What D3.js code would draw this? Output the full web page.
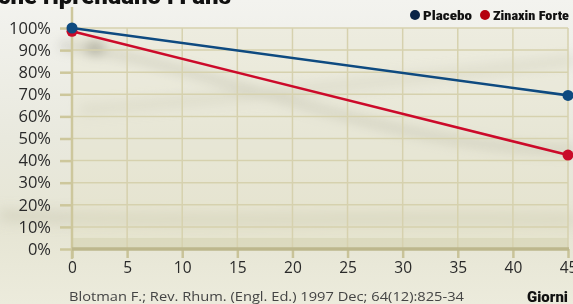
<!DOCTYPE html>
<html><head><meta charset="utf-8">
<script src="https://cdn.jsdelivr.net/npm/d3@7"></script>
<style>
html,body{margin:0;padding:0;background:#ecebe1;}
svg{display:block;}
</style></head>
<body>
<svg id="c" width="573" height="304"></svg>
<script>
const days = [0, 45];
const placebo = [100, 69.5];
const zinaxin = [98.5, 42.5];
const xTicks = [0,5,10,15,20,25,30,35,40,45];
const yTicks = [0,10,20,30,40,50,60,70,80,90,100];
const seriesNames = ["Placebo", "Zinaxin Forte"];
const titleText = "che riprendano i Fans";
const sourceText = "Blotman F.; Rev. Rhum. (Engl. Ed.) 1997 Dec; 64(12):825-34";
const xLabel = "Giorni";

const svg = d3.select("#c");
const W = 573, H = 304;
const x = d3.scaleLinear().domain([0,45]).range([72,568]);
const y = d3.scaleLinear().domain([0,100]).range([249,28]);

const defs = svg.append("defs");
const bg = defs.append("linearGradient").attr("id","bg").attr("x1",0).attr("y1",0).attr("x2",0).attr("y2",1);
bg.append("stop").attr("offset","0%").attr("stop-color","#f3f3ef");
bg.append("stop").attr("offset","45%").attr("stop-color","#e9e9de");
bg.append("stop").attr("offset","75%").attr("stop-color","#e6e5d4");
bg.append("stop").attr("offset","100%").attr("stop-color","#ecebdc");
const blur = defs.append("filter").attr("id","bl").attr("x","-20%").attr("y","-50%").attr("width","140%").attr("height","200%");
blur.append("feGaussianBlur").attr("stdDeviation",6);

svg.append("rect").attr("width",W).attr("height",H).attr("fill","url(#bg)");
// soft background streaks
const deco = svg.append("g").attr("filter","url(#bl)").attr("fill","none");
deco.append("path").attr("d","M60,45 C200,60 380,150 573,150").attr("stroke","#a9a99c").attr("stroke-width",7).attr("opacity",0.55);
deco.append("path").attr("d","M80,110 C220,100 400,80 573,60").attr("stroke","#c9c9bc").attr("stroke-width",10).attr("opacity",0.5);
deco.append("path").attr("d","M0,215 C200,225 400,215 573,220").attr("stroke","#cfcdb8").attr("stroke-width",12).attr("opacity",0.6);
deco.append("ellipse").attr("cx",95).attr("cy",48).attr("rx",10).attr("ry",7).attr("fill","#6f6f66").attr("opacity",0.6);

// plot tint
svg.append("rect").attr("x",x(0)).attr("y",y(100)).attr("width",x(45)-x(0)).attr("height",y(0)-y(100))
  .attr("fill","#e4e1c4").attr("opacity",0.3);
svg.append("rect").attr("x",x(0)).attr("y",y(5)).attr("width",x(45)-x(0)).attr("height",y(0)-y(5))
  .attr("fill","#d2cfae").attr("opacity",0.5);

// title (cut at top, as in the reference)
svg.append("text").attr("x",-2).attr("y",4).attr("font-family","Roboto, 'Liberation Sans', sans-serif")
  .attr("font-weight",900).attr("font-size",24).attr("fill","#111").text(titleText);

const grid = svg.append("g").attr("stroke","#d6d1ae").attr("stroke-width",1.5);
grid.selectAll("line.h").data(yTicks.filter(d=>d>0)).join("line")
  .attr("x1",x(0)).attr("x2",x(45)).attr("y1",d=>y(d)).attr("y2",d=>y(d));
grid.selectAll("line.v").data(xTicks.filter(d=>d>0)).join("line")
  .attr("x1",d=>x(d)).attr("x2",d=>x(d)).attr("y1",y(100)).attr("y2",y(0));

// y axis
const yAxis = d3.axisLeft(y).tickValues(yTicks).tickFormat(d=>d+"%").tickSize(12).tickPadding(8);
const gy = svg.append("g").attr("transform",`translate(${x(0)},0)`).call(yAxis);
gy.select(".domain").remove();
gy.selectAll(".tick line").attr("stroke","#cdc79c").attr("stroke-width",2.5);
gy.selectAll(".tick text").attr("font-family","'Open Sans', 'Noto Sans', sans-serif").attr("font-size",16.5).attr("fill","#2a2a2a").attr("dx",-1);
svg.append("line").attr("x1",x(0)).attr("x2",x(0)).attr("y1",7).attr("y2",259).attr("stroke","#cdc79c").attr("stroke-width",2.5);

// x axis
const xAxis = d3.axisBottom(x).tickValues(xTicks).tickSize(9).tickPadding(4);
const gx = svg.append("g").attr("transform",`translate(0,${y(0)})`).call(xAxis);
gx.select(".domain").remove();
gx.selectAll(".tick line").attr("stroke","#c9c398").attr("stroke-width",2.5);
gx.selectAll(".tick text").attr("font-family","'Open Sans', 'Noto Sans', sans-serif").attr("font-size",15.5).attr("fill","#2a2a2a");
svg.append("line").attr("x1",x(0)).attr("x2",x(45)+1).attr("y1",y(0)).attr("y2",y(0)).attr("stroke","#bdb78c").attr("stroke-width",3.5);

// lines
const line = d3.line().x((d,i)=>x(days[i])).y(d=>y(d));
const cols = ["#0e4a80","#cc0a2a"];
const dotCols = ["#0e4a80","#c90a28"];
[zinaxin, placebo].forEach(s=>{
  const idx = s===placebo?0:1;
  svg.append("path").datum(s).attr("d",line).attr("fill","none").attr("stroke",cols[idx]).attr("stroke-width",2.6);
});
[zinaxin, placebo].forEach(s=>{
  const idx = s===placebo?0:1;
  svg.selectAll(null).data(s).join("circle").attr("cx",(d,i)=>x(days[i])).attr("cy",d=>y(d)).attr("r",5.5).attr("fill",dotCols[idx]);
});

// legend
const legCols = ["#0a2447","#b5000d"];
const lg = svg.append("g").attr("font-family","'Roboto Condensed','Roboto','Liberation Sans Narrow',sans-serif").attr("font-weight",900).attr("font-size",12).attr("fill","#111");
const legX = [415, 485];
seriesNames.forEach((n,i)=>{
  lg.append("circle").attr("cx",legX[i]).attr("cy",15).attr("r",5).attr("fill",legCols[i]);
  lg.append("text").attr("x",legX[i]+8).attr("y",19.5).attr("textLength", i===0?49:76).attr("lengthAdjust","spacingAndGlyphs").text(n);
});

// source & x label
svg.append("text").attr("x",69).attr("y",301).attr("font-family","'Open Sans','Noto Sans',sans-serif").attr("font-size",13).attr("fill","#444")
  .attr("textLength",395).attr("lengthAdjust","spacingAndGlyphs").text(sourceText);
svg.append("text").attr("x",568).attr("y",302).attr("text-anchor","end").attr("font-family","Roboto,'Liberation Sans',sans-serif")
  .attr("font-weight",900).attr("font-size",14).attr("fill","#111").attr("textLength",41).attr("lengthAdjust","spacingAndGlyphs").text(xLabel);
</script>
</body></html>
